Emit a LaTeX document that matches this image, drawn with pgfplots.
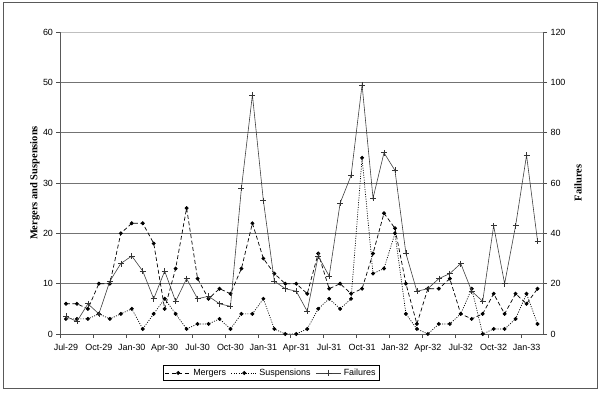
\documentclass[border=0pt]{standalone}
\usepackage{fontspec}
\setmainfont{Liberation Sans}
\newfontfamily\tnr{Liberation Serif}
\usepackage{pgfplots}
\pgfplotsset{compat=1.18}
\usepackage{pgfplotstable}

\pgfplotstableread{
i m s f
0 6 3 7
1 6 3 5
2 5 3 12
3 10 4 8
4 10 3 21
5 20 4 28
6 22 5 31
7 22 1 25
8 18 4 14
9 5 7 25
10 13 4 13
11 25 1 22
12 11 2 14
13 7 2 15
14 9 3 12
15 8 1 11
16 13 4 58
17 22 4 95
18 15 7 53
19 12 1 21
20 10 0 18
21 10 0 17
22 8 1 9
23 16 5 31
24 9 7 23
25 10 5 52
26 8 7 63
27 9 35 99
28 16 12 54
29 24 13 72
30 21 20 65
31 10 4 32
32 2 1 17
33 9 0 18
34 9 2 22
35 11 2 24
36 4 4 28
37 3 9 17
38 4 0 13
39 8 1 43
40 4 1 20
41 8 3 43
42 6 8 71
43 9 2 37
}\data

\pgfplotsset{
  common/.style={
    at={(60.5bp,60bp)}, anchor=south west,
    scale only axis, width=482.5bp, height=302bp,
    xmin=-0.5, xmax=43.5, ymin=0,
    tick align=outside,
    major tick length=4bp, minor tick length=4bp,
    tick style={black!70, line width=0.6bp},
    ticklabel style={font=\fontsize{9}{10}\selectfont},
    /pgf/number format/assume math mode=true,
    axis line style={black!65, line width=0.8bp},
  },
  mstyle/.style={black, line width=0.7bp, dash pattern=on 4bp off 2.5bp, mark=*, mark size=1.6bp, mark options={solid, fill=black}},
  sstyle/.style={black, line width=0.7bp, dash pattern=on 1bp off 1.4bp, mark=*, mark size=1.6bp, mark options={solid, fill=black}},
  fstyle/.style={black!75, line width=0.6bp, mark=+, mark size=3bp, mark options={solid, black!80}},
}

\begin{document}
\begin{tikzpicture}
\useasboundingbox (0bp,0bp) rectangle (600bp,394bp);
\draw[black!65, line width=0.9bp] (3bp,6bp) rectangle (597bp,392bp);
\begin{axis}[common,
  ymax=60,
  axis x line*=bottom, axis y line*=left,
  xtick={0,3,...,42},
  xticklabels={Jul-29,Oct-29,Jan-30,Apr-30,Jul-30,Oct-30,Jan-31,Apr-31,Jul-31,Oct-31,Jan-32,Apr-32,Jul-32,Oct-32,Jan-33},
  major x tick style={draw=none},
  minor xtick={-0.5,2.5,...,41.5},
  xticklabel style={yshift=-2.5bp},
  ytick={0,10,...,60},
  ymajorgrids,
  grid style={black!55, line width=0.8bp},
  ylabel={\tnr\bfseries Mergers and Suspensions},
  ylabel style={at={(axis description cs:-0.053,0.5)}, anchor=center, font=\fontsize{10.5}{12}\selectfont},
  legend columns=3,
  legend style={at={(axis description cs:0.437,-0.129)}, anchor=center,
    draw=black, line width=0.6bp, font=\fontsize{9}{10}\selectfont,
    inner xsep=2bp, inner ysep=1.5bp,
    /tikz/every even column/.append style={column sep=3bp}},
  legend image code/.code={\draw[mark repeat=2,mark phase=2,#1] plot coordinates {(0cm,0cm) (0.45cm,0cm) (0.9cm,0cm)};},
]
\draw[black!25, line width=0.8bp] (rel axis cs:0,1) -- (rel axis cs:1,1);
\addplot[mstyle] table[x=i, y=m] {\data};
\addlegendentry{Mergers}
\addplot[sstyle] table[x=i, y=s] {\data};
\addlegendentry{Suspensions}
\addlegendimage{fstyle}
\addlegendentry{Failures}
\end{axis}
\begin{axis}[common,
  ymax=120,
  axis y line*=right, axis x line=none,
  xtick=\empty,
  ytick={0,20,...,120},
  ylabel={\tnr\bfseries Failures},
  ylabel style={at={(axis description cs:1.0725,0.5)}, anchor=center, font=\fontsize{10.5}{12}\selectfont},
]
\addplot[fstyle] table[x=i, y=f] {\data};
\end{axis}
\end{tikzpicture}
\end{document}
